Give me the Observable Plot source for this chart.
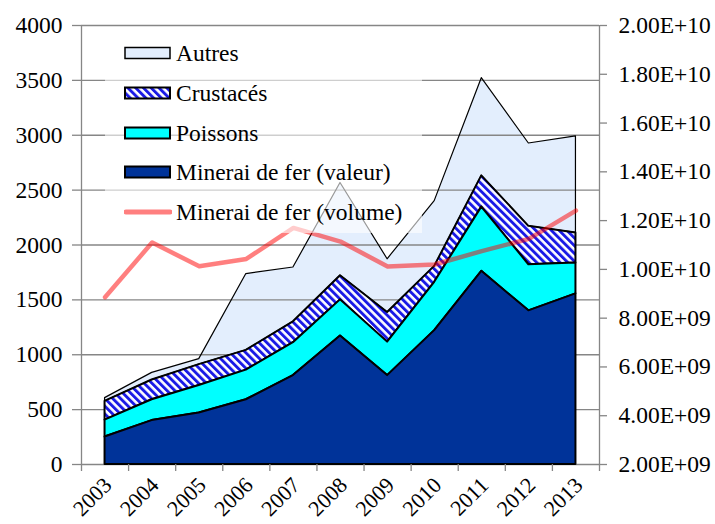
<!DOCTYPE html>
<html>
<head>
<meta charset="utf-8">
<script src="https://cdn.jsdelivr.net/npm/d3@7"></script>
<script src="https://cdn.jsdelivr.net/npm/@observablehq/plot@0.6"></script>
<style>
  body { margin: 0; background: white; }
  #wrap { position: relative; width: 715px; height: 524px; font-family: "Liberation Serif"; }
  #legend { position: absolute; left: 105px; top: 33px; width: 317px; height: 200px; background: rgba(255,255,255,0.6); }
  .row { position: absolute; left: 19px; height: 30px; display: flex; align-items: center; font-size: 23.5px; font-family: "Liberation Serif"; color: black; white-space: nowrap; }
  .row svg { margin-right: 4px; }
</style>
</head>
<body>
<div id="wrap"></div>
<script>
const years = [2003, 2004, 2005, 2006, 2007, 2008, 2009, 2010, 2011, 2012, 2013];
const minerai = [250, 400, 470, 590, 810, 1170, 810, 1220, 1760, 1400, 1555];
const poissons = [155, 190, 250, 270, 300, 330, 305, 440, 585, 420, 280];
const crustaces = [170, 180, 190, 180, 190, 220, 270, 145, 285, 350, 275];
const autres = [30, 65, 50, 695, 495, 845, 485, 595, 890, 755, 880];
const volume = [8.86e9, 11.1e9, 10.13e9, 10.43e9, 11.7e9, 11.14e9, 10.12e9, 10.2e9, 10.75e9, 11.25e9, 12.41e9];
const leftTicks = [0, 500, 1000, 1500, 2000, 2500, 3000, 3500, 4000];
const rightTicks = [2e9, 4e9, 6e9, 8e9, 1e10, 1.2e10, 1.4e10, 1.6e10, 1.8e10, 2e10];
const rightTickLabels = ["2.00E+09", "4.00E+09", "6.00E+09", "8.00E+09", "1.00E+10", "1.20E+10", "1.40E+10", "1.60E+10", "1.80E+10", "2.00E+10"];
const seriesNames = ["Autres", "Crustacés", "Poissons", "Minerai de fer (valeur)", "Minerai de fer (volume)"];

const R0 = 2e9, R1 = 2e10, L1 = 4000;
const toLeft = v => (v - R0) / (R1 - R0) * L1;

const rows = years.map((year, i) => {
  const c1 = minerai[i];
  const c2 = c1 + poissons[i];
  const c3 = c2 + crustaces[i];
  const c4 = c3 + autres[i];
  return {year, c0: 0, c1, c2, c3, c4, vol: toLeft(volume[i])};
});
const bounds = [years[0] - 0.5, ...years.map(y => y + 0.5)];
const rightPos = rightTicks.map(toLeft);
const rightLabel = d => {
  const i = rightPos.findIndex(p => Math.abs(p - d) < 1e-6);
  return i >= 0 ? rightTickLabels[i] : "";
};

const gray = "#868686";
const fs = 23.5;
const plot = Plot.plot({
  width: 715,
  height: 524,
  marginLeft: 81,
  marginRight: 116,
  marginTop: 25,
  marginBottom: 60,
  style: {fontFamily: "Liberation Serif", fontSize: fs + "px", color: "black", background: "white"},
  x: {type: "linear", domain: [bounds[0], bounds[bounds.length - 1]], axis: null},
  y: {domain: [0, L1], axis: null},
  marks: [
    Plot.areaY(rows, {x: "year", y1: "c3", y2: "c4", fill: "#e3eefd"}),
    Plot.ruleY(leftTicks, {stroke: gray, strokeWidth: 1.3}),
    Plot.areaY(rows, {x: "year", y1: "c3", y2: "c4", fill: "none", stroke: "black", strokeWidth: 1.2}),
    Plot.areaY(rows, {x: "year", y1: "c2", y2: "c3", fill: "url(#stripes)", stroke: "black", strokeWidth: 2}),
    Plot.areaY(rows, {x: "year", y1: "c1", y2: "c2", fill: "#00ffff", stroke: "black", strokeWidth: 2}),
    Plot.areaY(rows, {x: "year", y1: "c0", y2: "c1", fill: "#003399", stroke: "black", strokeWidth: 2}),
    Plot.lineY(rows, {x: "year", y: "vol", stroke: "red", strokeOpacity: 0.5, strokeWidth: 4.5}),
    Plot.ruleX([bounds[0], bounds[bounds.length - 1]], {stroke: gray, strokeWidth: 1.3}),
    Plot.axisY(leftTicks, {anchor: "left", label: null, tickSize: 9, tickPadding: 10, stroke: gray, strokeWidth: 1.3, fontSize: fs, fill: "black", tickFormat: d => String(d)}),
    Plot.axisY(rightPos, {anchor: "right", label: null, tickSize: 7, tickPadding: 12, stroke: gray, strokeWidth: 1.3, fontSize: fs, fill: "black", tickFormat: rightLabel}),
    Plot.axisX(bounds, {anchor: "bottom", label: null, tickSize: 7, stroke: gray, strokeWidth: 1.3, tickFormat: () => ""}),
    Plot.axisX(years, {anchor: "bottom", label: null, tickSize: 0, tickPadding: 17, tickRotate: -45, fontSize: 22, fill: "black", dx: 3, tickFormat: d => String(d)})
  ]
});

const ns = "http://www.w3.org/2000/svg";
const defs = document.createElementNS(ns, "defs");
defs.innerHTML = '<pattern id="stripes" patternUnits="userSpaceOnUse" width="5.5" height="5.5" patternTransform="rotate(-45)"><rect width="5.5" height="5.5" fill="white"/><rect width="2.9" height="5.5" fill="#1a1ae6"/></pattern>';
plot.prepend(defs);

const wrap = document.getElementById("wrap");
wrap.appendChild(plot);

const legend = document.createElement("div");
legend.id = "legend";
const fills = ["#e3eefd", "url(#stripes)", "#00ffff", "#003399", null];
const strokeW = [1.5, 2, 2, 2, 0];
const centers = [53, 93, 133, 172, 212];
seriesNames.forEach((name, i) => {
  const row = document.createElement("div");
  row.className = "row";
  row.style.top = (centers[i] - 33 - 15) + "px";
  let sw;
  if (fills[i]) {
    sw = `<svg width="48" height="14"><rect x="1" y="1.5" width="45" height="11" fill="${fills[i]}" stroke="black" stroke-width="${strokeW[i]}"/></svg>`;
  } else {
    sw = `<svg width="48" height="14"><line x1="2" y1="7" x2="46" y2="7" stroke="red" stroke-opacity="0.5" stroke-width="5" stroke-linecap="round"/></svg>`;
  }
  row.innerHTML = sw + `<span>${name}</span>`;
  legend.appendChild(row);
});
wrap.appendChild(legend);
</script>
</body>
</html>
